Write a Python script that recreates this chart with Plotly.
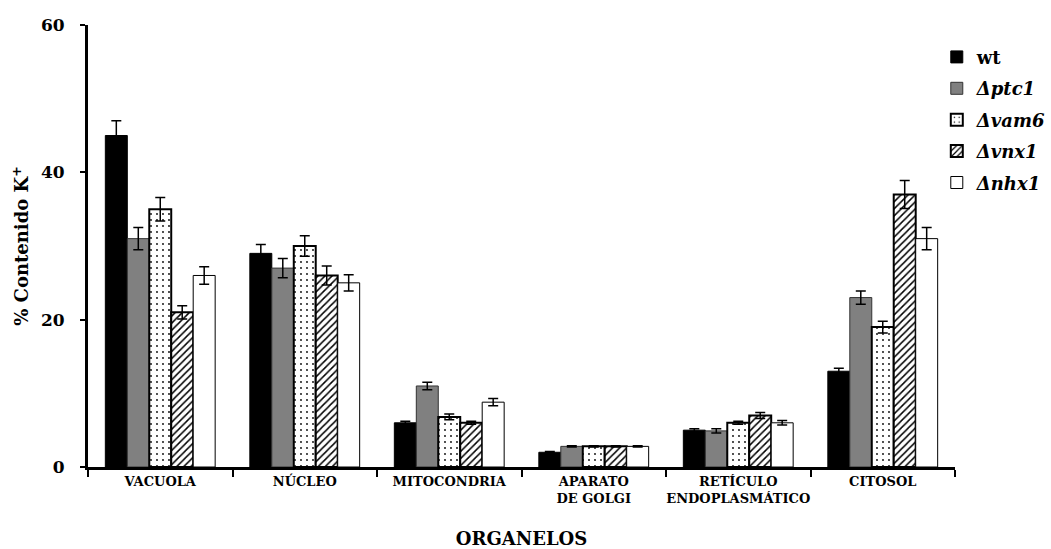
import plotly.graph_objects as go

# Organelle compartments (x categories)
organelos = ["VACUOLA", "NÚCLEO", "MITOCONDRIA", "APARATO<br>DE GOLGI",
             "RETÍCULO<br>ENDOPLASMÁTICO", "CITOSOL"]

# % K+ content per strain, with error bars
wt = [45, 29, 6, 2, 5, 13]
wt_err = [2.0, 1.2, 0.2, 0.1, 0.2, 0.4]

ptc1 = [31, 27, 11, 2.8, 4.9, 23]
ptc1_err = [1.5, 1.3, 0.5, 0.1, 0.3, 0.9]

vam6 = [35, 30, 6.8, 2.8, 6, 19]
vam6_err = [1.6, 1.4, 0.4, 0.1, 0.2, 0.8]

vnx1 = [21, 26, 6, 2.8, 7, 37]
vnx1_err = [0.9, 1.3, 0.2, 0.1, 0.4, 1.9]

nhx1 = [26, 25, 8.8, 2.8, 6, 31]
nhx1_err = [1.2, 1.1, 0.5, 0.1, 0.3, 1.5]

FONT = "DejaVu Serif"

series = [
    ("<b>wt</b>", wt, wt_err, dict(color="black", line=dict(color="black", width=1))),
    ("<b><i>Δptc1</i></b>", ptc1, ptc1_err,
     dict(color="#808080", line=dict(color="#333333", width=1))),
    ("<b><i>Δvam6</i></b>", vam6, vam6_err,
     dict(color="white", line=dict(color="black", width=2),
          pattern=dict(shape=".", fgcolor="black", bgcolor="white",
                       size=6, solidity=0.07, fillmode="replace"))),
    ("<b><i>Δvnx1</i></b>", vnx1, vnx1_err,
     dict(color="white", line=dict(color="black", width=2),
          pattern=dict(shape="/", fgcolor="black", bgcolor="white",
                       size=5, solidity=0.3, fillmode="replace"))),
    ("<b><i>Δnhx1</i></b>", nhx1, nhx1_err,
     dict(color="white", line=dict(color="black", width=1))),
]

fig = go.Figure()
for i, (name, vals, errs, marker) in enumerate(series):
    fig.add_trace(go.Bar(
        x=organelos, y=vals, name=name, marker=marker, legendgroup=f"g{i}",
        error_y=dict(type="data", array=errs, color="black",
                     thickness=1.5, width=5),
    ))

fig.update_layout(
    width=1051, height=549,
    margin=dict(l=88, r=96, t=25, b=82, autoexpand=False),
    paper_bgcolor="white", plot_bgcolor="white",
    barmode="group", bargap=0.24, bargroupgap=0,
    font=dict(family=FONT, color="black"),
    showlegend=True,
    legend=dict(x=0.979, y=0.969, xanchor="left", yanchor="top",
                font=dict(family=FONT, size=18, color="black"),
                bgcolor="rgba(0,0,0,0)", tracegroupgap=5),
    xaxis=dict(
        showline=True, linecolor="black", linewidth=3,
        ticks="outside", tickson="boundaries", ticklen=7, tickwidth=2,
        tickcolor="black", tickangle=0, automargin=False,
        tickfont=dict(family=FONT, size=13, color="black", weight="bold"),
        title=dict(text="<b>ORGANELOS</b>", standoff=33,
                   font=dict(family=FONT, size=18, color="black")),
    ),
    yaxis=dict(
        range=[0, 60], tickvals=[0, 20, 40, 60],
        showline=True, linecolor="black", linewidth=3,
        showgrid=False, zeroline=False, automargin=False,
        ticks="outside", ticklen=5, tickwidth=2, tickcolor="black",
        ticklabelstandoff=12,
        tickfont=dict(family=FONT, size=17, color="black", weight="bold"),
        title=dict(text="<b>% Contenido K<sup>+</sup></b>", standoff=8,
                   font=dict(family=FONT, size=18, color="black")),
    ),
)

fig.write_html("out.html")
